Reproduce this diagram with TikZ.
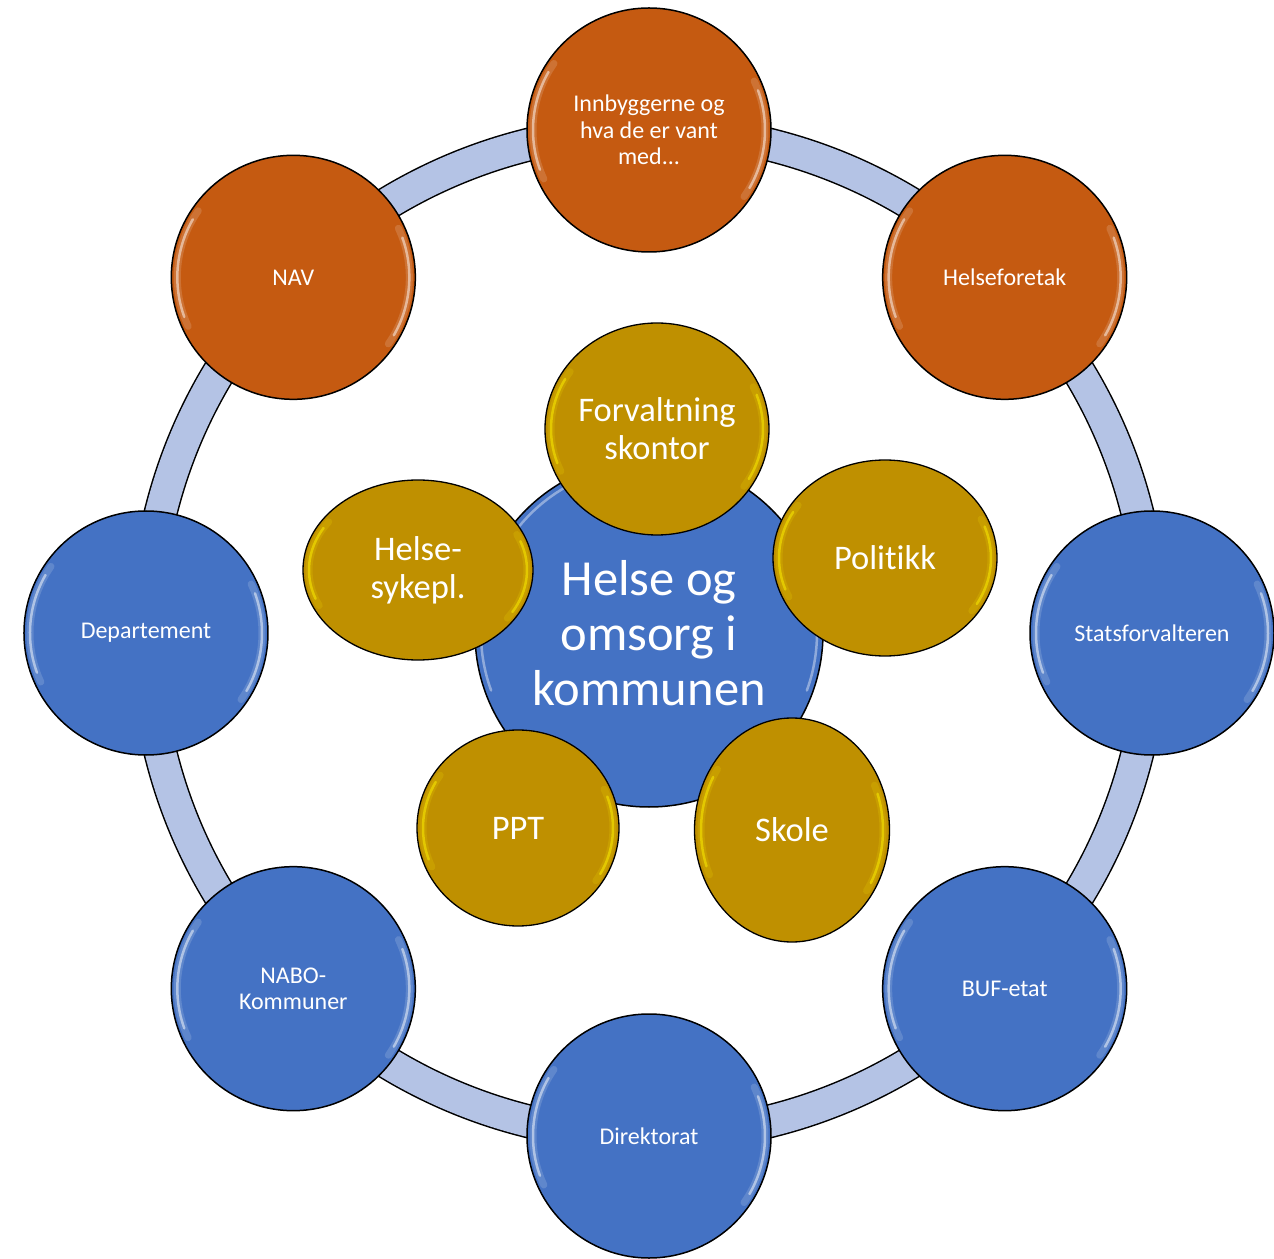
\documentclass[tikz,border=0pt]{standalone}
\usepackage{fontspec}
\setmainfont{Carlito}[Ligatures=NoCommon]
\usetikzlibrary{shapes.geometric,backgrounds}

\definecolor{rust}{RGB}{197,90,17}
\definecolor{steel}{RGB}{68,114,196}
\definecolor{mustard}{RGB}{191,144,0}
\definecolor{band}{RGB}{180,195,229}

% shiny rim on the left and right inside a node
\newcommand\shine[4]{%
  \draw[gloss=#4,line width=7pt,opacity=0.15] (#1.center) ++(145:#2pt and #3pt) arc[start angle=145,end angle=205,x radius=#2pt,y radius=#3pt];
  \draw[gloss=#4] (#1.center) ++(150:#2pt and #3pt) arc[start angle=150,end angle=200,x radius=#2pt,y radius=#3pt];
  \draw[gloss=#4,line width=7pt,opacity=0.15] (#1.center) ++(-35:#2pt and #3pt) arc[start angle=-35,end angle=25,x radius=#2pt,y radius=#3pt];
  \draw[gloss=#4] (#1.center) ++(-30:#2pt and #3pt) arc[start angle=-30,end angle=20,x radius=#2pt,y radius=#3pt];}

\begin{document}
\begin{tikzpicture}[x=1pt,y=1pt,
    ball/.style={circle,draw=black,line width=1.5pt,minimum size=244pt,inner sep=0pt,
      text=white,align=center,font=\fontsize{24}{26.5}\selectfont},
    blob/.style={ellipse,draw=black,line width=1.3pt,fill=mustard,inner sep=0pt,
      text=white,align=center,font=\fontsize{34.5}{38}\selectfont},
    ring/.style={draw=black,line width=1.5pt,double=band,double distance=31pt},
    gloss/.style={draw=#1,line width=2.5pt,opacity=0.5,line cap=round}]
  \useasboundingbox (-649,-625) rectangle (625,633);

  % outer ring of partners
  \node[ball,fill=rust]  (innb) at (90:503)  {Innbyggerne og\\hva de er vant\\med...};
  \node[ball,fill=rust]  (hf)   at (45:503)  {Helseforetak};
  \node[ball,fill=steel] (sf)   at (0:503)   {Statsforvalteren};
  \node[ball,fill=steel] (buf)  at (-45:503) {BUF-etat};
  \node[ball,fill=steel] (dir)  at (-90:503) {Direktorat};
  \node[ball,fill=steel] (nabo) at (-135:503) {NABO-\\Kommuner};
  \node[ball,fill=steel] (dep)  at (180:503) {Departement};
  \node[ball,fill=rust]  (nav)  at (135:503) {NAV};
  \foreach \n in {innb,hf,sf,buf,dir,nabo,dep,nav} {\shine{\n}{116}{116}{white}}

  \begin{scope}[on background layer]
    \foreach \a/\b in {innb/hf,hf/sf,sf/buf,buf/dir,dir/nabo,nabo/dep,dep/nav,nav/innb}
      \draw[ring] (\a.center) to[bend left=22.5,looseness=0.885] (\b.center);
  \end{scope}

  % the municipality in the middle
  \node[circle,draw=black,line width=1.5pt,fill=steel,minimum size=348pt,text=white,
    align=center,font=\fontsize{50.5}{55}\selectfont] (hub) at (0,0) {Helse og\\omsorg i\\kommunen};
  \draw[gloss=white!80!steel] (hub.center) ++(115:168pt) arc[start angle=115,end angle=200,radius=168pt];
  \draw[gloss=white!80!steel] (hub.center) ++(-20:168pt) arc[start angle=-20,end angle=30,radius=168pt];

  \node[blob,minimum width=224pt,minimum height=212pt] (forv) at (8,204)   {Forvaltning\\skontor};
  \node[blob,minimum width=224pt,minimum height=196pt] (pol)  at (236,75)  {Politikk};
  \node[blob,minimum width=195pt,minimum height=224pt] (skole) at (143,-197) {Skole};
  \node[blob,minimum width=202pt,minimum height=196pt] (ppt)  at (-131,-195) {PPT};
  \node[blob,minimum width=230pt,minimum height=180pt] (hsyk) at (-231,63) {Helse-\\sykepl.};
  \shine{forv}{106}{100}{yellow}
  \shine{pol}{106}{92}{yellow}
  \shine{skole}{91}{106}{yellow}
  \shine{ppt}{95}{92}{yellow}
  \shine{hsyk}{109}{84}{yellow}
\end{tikzpicture}
\end{document}
